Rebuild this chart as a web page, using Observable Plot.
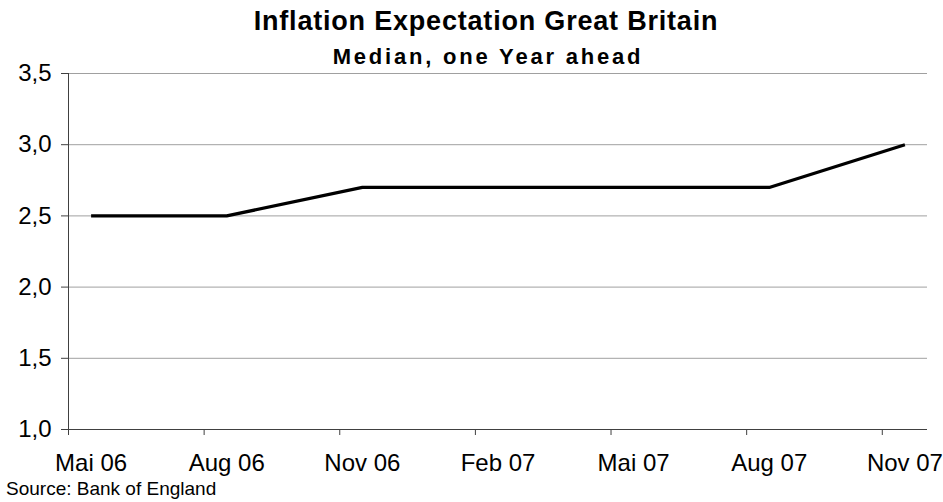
<!DOCTYPE html>
<html>
<head>
<meta charset="utf-8">
<script src="https://cdn.jsdelivr.net/npm/d3@7"></script>
<script src="https://cdn.jsdelivr.net/npm/@observablehq/plot@0.6"></script>
<style>
  body { margin: 0; background: #fff; }
  #wrap { position: relative; width: 943px; height: 502px; font-family: "Liberation Sans", Arial, sans-serif; color: #000; }
  #head { position: relative; height: 70px; }
  #title { position: absolute; top: 8px; left: 486px; transform: translateX(-50%); white-space: nowrap; font-size: 27px; font-weight: bold; line-height: 27px; letter-spacing: 0.8px; }
  #subtitle { position: absolute; top: 46px; left: 488px; transform: translateX(-50%); white-space: nowrap; font-size: 22px; font-weight: bold; line-height: 22px; letter-spacing: 2.8px; }
  #source { font-size: 19px; line-height: 19px; margin-left: 6px; white-space: nowrap; }
</style>
</head>
<body>
<div id="wrap">
  <div id="head">
    <div id="title"></div>
    <div id="subtitle"></div>
  </div>
  <div id="chart"></div>
  <div id="source"></div>
</div>
<script>
// ---- data ----
const titleText = "Inflation Expectation Great Britain";
const subtitleText = "Median, one Year ahead";
const sourceText = "Source: Bank of England";

const months = ["2006-05", "2006-08", "2006-11", "2007-02", "2007-05", "2007-08", "2007-11"];
const labels = ["Mai 06", "Aug 06", "Nov 06", "Feb 07", "Mai 07", "Aug 07", "Nov 07"];
const values = [2.5, 2.5, 2.7, 2.7, 2.7, 2.7, 3.0];
const yTicks = [1.0, 1.5, 2.0, 2.5, 3.0, 3.5];
const axisStart = "2006-05";
const axisEnd = "2007-12";

// month index relative to axis start
function monthIndex(s) {
  const [y, m] = s.split("-").map(Number);
  const [y0, m0] = axisStart.split("-").map(Number);
  return (y - y0) * 12 + (m - m0);
}

const data = months.map((m, i) => ({pos: monthIndex(m) + 0.5, value: values[i], label: labels[i]}));
const tickPos = months.map(monthIndex);
const labelPos = data.map(d => d.pos);
const labelByPos = new Map(data.map(d => [d.pos, d.label]));

document.getElementById("title").textContent = titleText;
document.getElementById("subtitle").textContent = subtitleText;
document.getElementById("source").textContent = sourceText;

const axisColor = "#404040";
const chart = Plot.plot({
  width: 943,
  height: 409,
  marginTop: 3,
  marginBottom: 50,
  marginLeft: 68,
  marginRight: 16,
  style: {fontFamily: "'Liberation Sans', Arial, sans-serif", background: "transparent", color: "#000", overflow: "visible"},
  x: {type: "linear", domain: [0, monthIndex(axisEnd)]},
  y: {domain: [1, 3.5]},
  marks: [
    Plot.gridY(yTicks, {stroke: "#a0a0a0", strokeOpacity: 1}),
    Plot.axisY({ticks: yTicks, tickSize: 7, tickPadding: 10, fontSize: 24, label: null, stroke: axisColor,
      tickFormat: d => d.toFixed(1).replace(".", ",")}),
    Plot.axisX({ticks: tickPos, tickSize: 6, label: null, stroke: axisColor, tickFormat: () => ""}),
    Plot.axisX({ticks: labelPos, tickSize: 0, tickPadding: 24, fontSize: 24, label: null,
      tickFormat: d => labelByPos.get(d)}),
    Plot.ruleX([0], {stroke: axisColor}),
    Plot.ruleY([1], {stroke: axisColor}),
    Plot.line(data, {x: "pos", y: "value", stroke: "#000", strokeWidth: 3.2, strokeLinejoin: "miter", strokeLinecap: "butt"})
  ]
});
document.getElementById("chart").appendChild(chart);
</script>
</body>
</html>
